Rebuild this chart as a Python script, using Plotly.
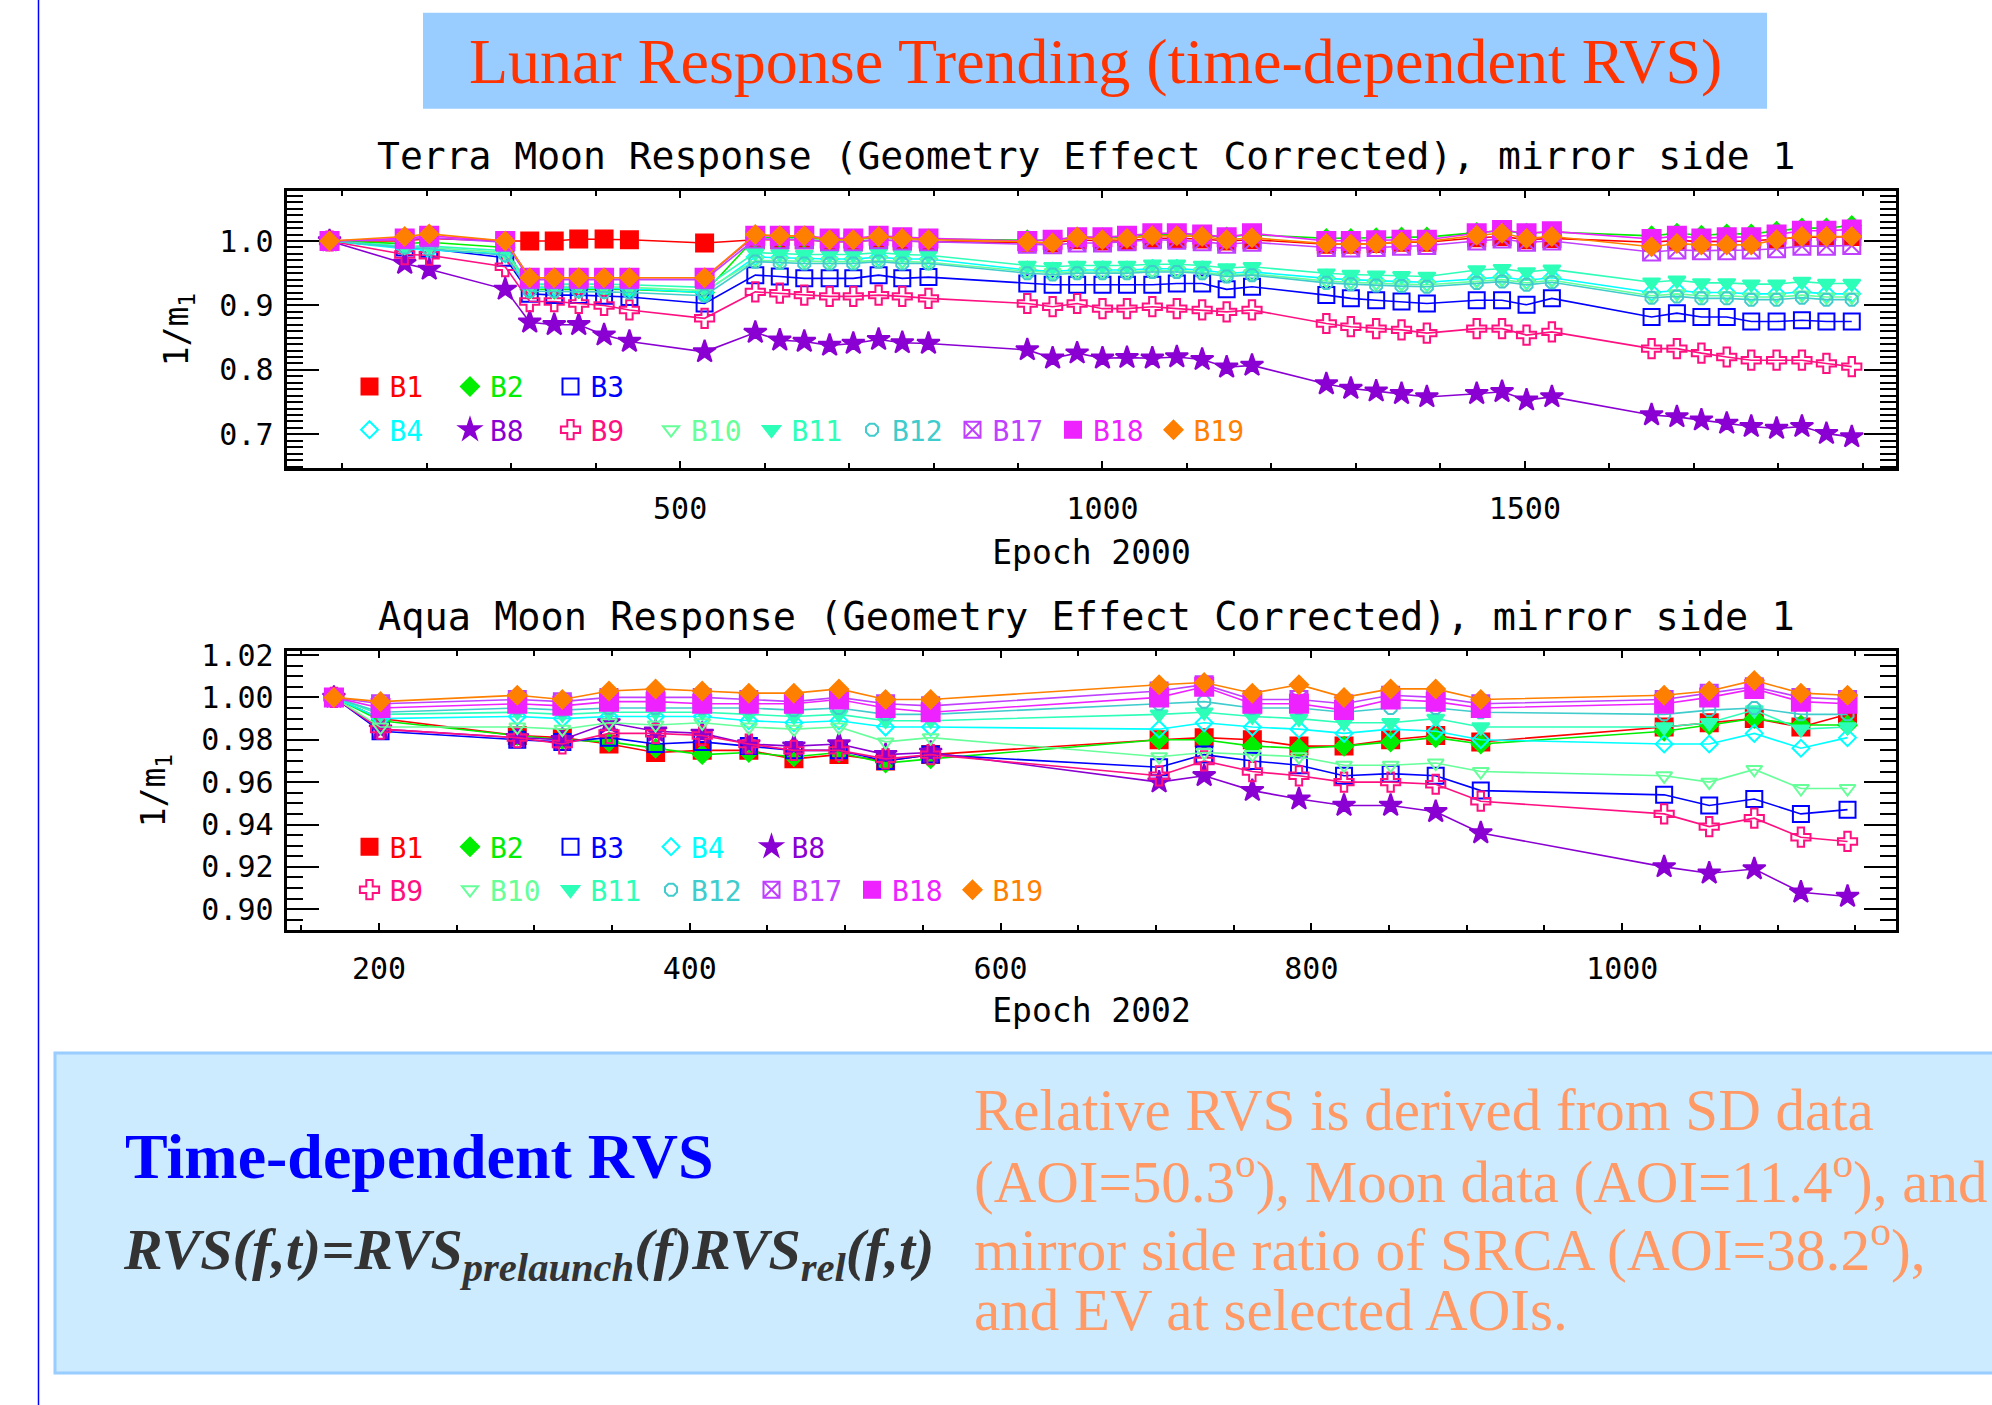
import plotly.graph_objects as go

W, H = 1992, 1405

# ---------------- data ----------------
bands = ["B1", "B2", "B3", "B4", "B8", "B9", "B10", "B11", "B12", "B17", "B18", "B19"]

terra_epoch = [85, 174, 203, 293, 322, 351, 380, 410, 440, 529,
               589, 618, 647, 677, 705, 735, 763, 794,
               911, 941, 970, 1000, 1029, 1059, 1088, 1118, 1147, 1177,
               1265, 1294, 1324, 1354, 1384,
               1443, 1473, 1502, 1532,
               1650, 1680, 1709, 1739, 1768, 1798, 1828, 1857, 1887]

terra_B1 = [1.000, 1.000, 1.004, 1.000, 1.000, 1.000, 1.003, 1.003, 1.002, 0.997,
            1.002, 1.002, 1.002, 0.999, 0.999, 1.002, 1.000, 0.999,
            0.998, 0.997, 1.002, 1.000, 1.000, 1.004, 1.004, 1.003, 1.000, 1.002,
            0.995, 0.995, 0.996, 0.998, 0.998,
            1.005, 1.007, 1.002, 1.004,
            0.998, 1.001, 0.999, 1.000, 1.000, 1.003, 1.006, 1.006, 1.007]
terra_B2 = [1.000, 0.996, 0.998, 0.990, 0.925, 0.925, 0.926, 0.925, 0.925, 0.920,
            1.005, 1.005, 1.005, 1.002, 1.002, 1.006, 1.004, 1.003,
            1.002, 1.001, 1.006, 1.005, 1.006, 1.010, 1.010, 1.009, 1.006, 1.010,
            1.004, 1.004, 1.005, 1.006, 1.006,
            1.013, 1.016, 1.012, 1.014,
            1.008, 1.012, 1.009, 1.011, 1.011, 1.015, 1.020, 1.020, 1.024]
terra_B3 = [1.000, 0.990, 0.988, 0.974, 0.918, 0.916, 0.916, 0.915, 0.913, 0.903,
            0.947, 0.945, 0.942, 0.942, 0.942, 0.947, 0.942, 0.944,
            0.934, 0.932, 0.932, 0.932, 0.932, 0.932, 0.934, 0.934, 0.925, 0.929,
            0.916, 0.911, 0.908, 0.906, 0.903,
            0.908, 0.908, 0.901, 0.911,
            0.882, 0.888, 0.882, 0.882, 0.875, 0.875, 0.877, 0.875, 0.875]
terra_B4 = [1.000, 0.988, 0.986, 0.980, 0.928, 0.928, 0.928, 0.927, 0.926, 0.920,
            0.975, 0.974, 0.972, 0.972, 0.972, 0.975, 0.972, 0.972,
            0.955, 0.953, 0.955, 0.955, 0.955, 0.957, 0.957, 0.955, 0.950, 0.952,
            0.942, 0.940, 0.938, 0.937, 0.936,
            0.942, 0.944, 0.939, 0.943,
            0.920, 0.923, 0.920, 0.920, 0.918, 0.918, 0.921, 0.918, 0.918]
terra_B8 = [1.000, 0.965, 0.956, 0.925, 0.874, 0.870, 0.870, 0.854, 0.844, 0.828,
            0.858, 0.846, 0.844, 0.838, 0.841, 0.847, 0.842, 0.841,
            0.831, 0.818, 0.826, 0.818, 0.819, 0.818, 0.820, 0.816, 0.804, 0.807,
            0.778, 0.771, 0.767, 0.763, 0.758,
            0.763, 0.766, 0.753, 0.758,
            0.730, 0.727, 0.722, 0.717, 0.712, 0.709, 0.712, 0.701, 0.696]
terra_B9 = [1.000, 0.979, 0.978, 0.960, 0.906, 0.906, 0.903, 0.900, 0.893, 0.880,
            0.921, 0.919, 0.916, 0.914, 0.914, 0.916, 0.914, 0.911,
            0.903, 0.898, 0.903, 0.895, 0.895, 0.898, 0.895, 0.893, 0.890, 0.893,
            0.872, 0.867, 0.864, 0.862, 0.857,
            0.864, 0.864, 0.854, 0.859,
            0.833, 0.833, 0.826, 0.820, 0.815, 0.815, 0.815, 0.810, 0.805]
terra_B10 = [1.000, 0.991, 0.990, 0.982, 0.930, 0.930, 0.930, 0.929, 0.928, 0.923,
             0.970, 0.969, 0.968, 0.968, 0.968, 0.970, 0.968, 0.967,
             0.953, 0.951, 0.952, 0.952, 0.952, 0.954, 0.954, 0.952, 0.947, 0.949,
             0.938, 0.936, 0.934, 0.933, 0.932,
             0.938, 0.940, 0.935, 0.939,
             0.915, 0.918, 0.915, 0.915, 0.913, 0.913, 0.916, 0.913, 0.913]
terra_B11 = [1.000, 0.992, 0.992, 0.985, 0.933, 0.933, 0.934, 0.933, 0.932, 0.928,
             0.982, 0.980, 0.979, 0.979, 0.979, 0.982, 0.979, 0.978,
             0.962, 0.960, 0.962, 0.962, 0.962, 0.964, 0.964, 0.962, 0.958, 0.960,
             0.950, 0.948, 0.947, 0.946, 0.945,
             0.955, 0.957, 0.952, 0.956,
             0.936, 0.939, 0.935, 0.935, 0.933, 0.933, 0.937, 0.934, 0.934]
terra_B12 = [1.000, 0.990, 0.988, 0.978, 0.922, 0.922, 0.922, 0.921, 0.920, 0.915,
             0.968, 0.966, 0.965, 0.965, 0.965, 0.968, 0.965, 0.965,
             0.950, 0.948, 0.950, 0.950, 0.950, 0.952, 0.952, 0.950, 0.945, 0.947,
             0.935, 0.933, 0.931, 0.930, 0.929,
             0.935, 0.937, 0.932, 0.936,
             0.912, 0.914, 0.911, 0.911, 0.909, 0.909, 0.912, 0.909, 0.909]
terra_B17 = [1.000, 1.002, 1.005, 0.998, 0.940, 0.940, 0.940, 0.940, 0.940, 0.940,
             1.003, 1.002, 1.002, 0.999, 0.999, 1.002, 1.000, 0.999,
             0.995, 0.994, 0.997, 0.997, 0.999, 1.002, 1.001, 0.999, 0.995, 0.998,
             0.990, 0.989, 0.990, 0.992, 0.993,
             1.000, 1.003, 0.998, 1.000,
             0.983, 0.986, 0.985, 0.985, 0.986, 0.988, 0.992, 0.992, 0.993]
terra_B18 = [1.000, 1.004, 1.008, 1.000, 0.943, 0.943, 0.943, 0.943, 0.943, 0.943,
             1.008, 1.008, 1.008, 1.004, 1.004, 1.008, 1.006, 1.004,
             1.000, 1.002, 1.006, 1.006, 1.008, 1.012, 1.012, 1.010, 1.006, 1.012,
             1.000, 1.000, 1.001, 1.002, 1.002,
             1.012, 1.017, 1.012, 1.015,
             1.003, 1.008, 1.004, 1.006, 1.006, 1.010, 1.016, 1.016, 1.018]
terra_B19 = [1.000, 1.007, 1.011, 1.000, 0.943, 0.943, 0.943, 0.943, 0.943, 0.943,
             1.010, 1.008, 1.008, 1.002, 1.002, 1.007, 1.004, 1.002,
             0.999, 0.997, 1.006, 1.002, 1.004, 1.008, 1.008, 1.007, 1.002, 1.005,
             0.996, 0.995, 0.996, 0.999, 0.999,
             1.009, 1.012, 1.004, 1.007,
             0.991, 0.996, 0.994, 0.994, 0.994, 1.002, 1.007, 1.007, 1.007]

aqua_epoch = [171, 201, 289, 318, 348, 378, 408, 438, 467, 496, 526, 555,
              702, 731, 762, 792, 821, 851, 880, 909,
              1027, 1056, 1085, 1115, 1145]

aqua_B1 = [1.000, 0.990, 0.982, 0.981, 0.978, 0.974, 0.975, 0.975, 0.971, 0.973, 0.970, 0.973,
           0.980, 0.981, 0.980, 0.977, 0.977, 0.980, 0.982, 0.979,
           0.986, 0.988, 0.990, 0.986, 0.992]
aqua_B2 = [1.000, 0.989, 0.982, 0.980, 0.979, 0.976, 0.973, 0.974, 0.972, 0.974, 0.969, 0.971,
           0.980, 0.980, 0.977, 0.976, 0.977, 0.979, 0.981, 0.978,
           0.984, 0.987, 0.990, 0.987, 0.987]
aqua_B3 = [1.000, 0.984, 0.980, 0.979, 0.981, 0.978, 0.979, 0.977, 0.975, 0.975, 0.970, 0.973,
           0.967, 0.973, 0.970, 0.968, 0.963, 0.964, 0.963, 0.956,
           0.954, 0.949, 0.952, 0.945, 0.947]
aqua_B4 = [1.000, 0.990, 0.991, 0.990, 0.991, 0.991, 0.991, 0.989, 0.988, 0.989, 0.986, 0.986,
           0.985, 0.988, 0.986, 0.985, 0.983, 0.985, 0.984, 0.980,
           0.978, 0.978, 0.983, 0.976, 0.981]
aqua_B8 = [1.000, 0.985, 0.981, 0.980, 0.988, 0.984, 0.983, 0.978, 0.977, 0.978, 0.973, 0.974,
           0.960, 0.963, 0.956, 0.952, 0.949, 0.949, 0.946, 0.936,
           0.920, 0.917, 0.919, 0.908, 0.906]
aqua_B9 = [1.000, 0.985, 0.981, 0.978, 0.983, 0.983, 0.982, 0.978, 0.975, 0.975, 0.971, 0.973,
           0.963, 0.970, 0.965, 0.963, 0.960, 0.960, 0.959, 0.951,
           0.945, 0.939, 0.943, 0.934, 0.932]
aqua_B10 = [1.000, 0.986, 0.986, 0.985, 0.988, 0.987, 0.988, 0.986, 0.985, 0.986, 0.979, 0.981,
            0.972, 0.974, 0.973, 0.972, 0.968, 0.968, 0.969, 0.965,
            0.963, 0.960, 0.966, 0.957, 0.957]
aqua_B11 = [1.000, 0.992, 0.993, 0.992, 0.993, 0.993, 0.993, 0.992, 0.991, 0.992, 0.989, 0.989,
            0.992, 0.993, 0.991, 0.990, 0.988, 0.988, 0.990, 0.986,
            0.986, 0.988, 0.994, 0.985, 0.986]
aqua_B12 = [1.000, 0.993, 0.995, 0.994, 0.995, 0.995, 0.995, 0.995, 0.994, 0.995, 0.992, 0.992,
            0.997, 0.998, 0.995, 0.995, 0.993, 0.995, 0.995, 0.993,
            0.992, 0.994, 0.995, 0.992, 0.992]
aqua_B17 = [1.000, 0.997, 0.999, 0.998, 1.000, 1.000, 1.000, 0.999, 0.998, 1.000, 0.997, 0.996,
            1.003, 1.006, 0.999, 0.999, 0.997, 1.001, 1.000, 0.997,
            0.999, 1.002, 1.005, 1.000, 0.999]
aqua_B18 = [1.000, 0.995, 0.997, 0.996, 0.998, 0.998, 0.997, 0.997, 0.997, 0.999, 0.995, 0.993,
            1.000, 1.005, 0.997, 0.997, 0.994, 0.999, 0.998, 0.995,
            0.997, 1.000, 1.004, 0.998, 0.997]
aqua_B19 = [1.000, 0.998, 1.001, 0.999, 1.003, 1.004, 1.003, 1.002, 1.002, 1.004, 0.999, 0.999,
            1.006, 1.007, 1.002, 1.006, 1.000, 1.004, 1.004, 0.999,
            1.001, 1.003, 1.008, 1.002, 1.001]

terra = dict(zip(bands, [terra_B1, terra_B2, terra_B3, terra_B4, terra_B8, terra_B9,
                         terra_B10, terra_B11, terra_B12, terra_B17, terra_B18, terra_B19]))
aqua = dict(zip(bands, [aqua_B1, aqua_B2, aqua_B3, aqua_B4, aqua_B8, aqua_B9,
                        aqua_B10, aqua_B11, aqua_B12, aqua_B17, aqua_B18, aqua_B19]))
for b in bands:
    assert len(terra[b]) == len(terra_epoch), b
    assert len(aqua[b]) == len(aqua_epoch), b

# ---------------- styles ----------------
colors = {"B1": "#FF0000", "B2": "#00EE00", "B3": "#0000FF", "B4": "#00FFFF",
          "B8": "#8A00D2", "B9": "#FF1080", "B10": "#66FF99", "B11": "#2EFFB8",
          "B12": "#40CCCC", "B17": "#C040FF", "B18": "#EE22FF", "B19": "#FF8000"}
symbols = {"B1": "square", "B2": "diamond", "B3": "square-open", "B4": "diamond-open",
           "B8": "star", "B9": "cross-open", "B10": "triangle-down-open",
           "B11": "triangle-down", "B12": "octagon-open", "B17": "square-x-open",
           "B18": "square", "B19": "diamond"}
sizes = {"B1": 17, "B2": 14, "B3": 16, "B4": 13, "B8": 17, "B9": 16, "B10": 14,
         "B11": 15, "B12": 13, "B17": 17, "B18": 18, "B19": 14}

MONO = "DejaVu Sans Mono"
SERIF = "Liberation Serif"

fig = go.Figure()

def add_series(xs, data, xa, ya):
    for b in bands:
        fig.add_trace(go.Scatter(
            x=xs, y=data[b], mode="lines+markers", xaxis=xa, yaxis=ya,
            line=dict(color=colors[b], width=1.6),
            marker=dict(symbol=symbols[b], size=sizes[b], color=colors[b],
                        line=dict(color=colors[b], width=2)),
            showlegend=False, hoverinfo="skip"))

add_series(terra_epoch, terra, "x", "y")
add_series(aqua_epoch, aqua, "x2", "y2")

def add_legend_items(blist, legend_name):
    for b in blist:
        fig.add_trace(go.Scatter(
            x=[None], y=[None], mode="markers",
            marker=dict(symbol=symbols[b], size=sizes[b], color=colors[b],
                        line=dict(color=colors[b], width=2)),
            name='<span style="color:%s">%s</span>' % (colors[b], b),
            legend=legend_name, showlegend=True))

add_legend_items(["B1", "B2", "B3"], "legend")
add_legend_items(["B4", "B8", "B9", "B10", "B11", "B12", "B17", "B18", "B19"], "legend2")
add_legend_items(["B1", "B2", "B3", "B4", "B8"], "legend3")
add_legend_items(["B9", "B10", "B11", "B12", "B17", "B18", "B19"], "legend4")

def px_x(p):
    return p / W

def px_y(p):
    return 1 - p / H

def leg(x, y):
    return dict(orientation="h", x=x, y=y, xanchor="left", yanchor="middle",
                bgcolor="rgba(0,0,0,0)", font=dict(family=MONO, size=28, color="black"),
                entrywidth=55.5, entrywidthmode="pixels", itemwidth=30,
                tracegroupgap=0, itemclick=False, itemdoubleclick=False)

axis_common = dict(showline=True, linecolor="black", linewidth=2.5, mirror="ticks",
                   ticks="inside", tickcolor="black", tickwidth=1.5,
                   showgrid=False, zeroline=False, automargin=False,
                   tickfont=dict(family=MONO, size=30, color="black"))

xdom = [px_x(287.3), px_x(1895.7)]
minor_tick = dict(ticks="inside", tickcolor="black", tickwidth=1.5)

fig.update_layout(
    width=W, height=H, margin=dict(l=0, r=0, t=0, b=0, autoexpand=False),
    paper_bgcolor="white", plot_bgcolor="white", showlegend=True,
    xaxis=dict(domain=xdom, anchor="y", range=[35, 1939], dtick=500, tick0=0, ticklen=7,
               minor=dict(dtick=100, tick0=0, ticklen=5, **minor_tick),
               title=dict(text="Epoch 2000", font=dict(family=MONO, size=33, color="black"), standoff=17),
               ticklabelstandoff=12, **axis_common),
    yaxis=dict(domain=[px_y(468), px_y(191)], anchor="x", range=[0.6477, 1.0776],
               dtick=0.1, tick0=0, ticklen=32, tickformat=".1f",
               minor=dict(dtick=0.01, tick0=0, ticklen=16, **minor_tick),
               title=dict(text="1/m<sub>1</sub>", font=dict(family=MONO, size=33, color="black"), standoff=21),
               ticklabelstandoff=5, **axis_common),
    xaxis2=dict(domain=xdom, anchor="y2", range=[141, 1176], dtick=200, tick0=0, ticklen=7,
                minor=dict(dtick=50, tick0=0, ticklen=5, **minor_tick),
                title=dict(text="Epoch 2002", font=dict(family=MONO, size=33, color="black"), standoff=15),
                ticklabelstandoff=10, **axis_common),
    yaxis2=dict(domain=[px_y(930), px_y(651)], anchor="x2", range=[0.8902, 1.0219],
                dtick=0.02, tick0=0, ticklen=32, tickformat=".2f",
                minor=dict(dtick=0.005, tick0=0, ticklen=16, **minor_tick),
                title=dict(text="1/m<sub>1</sub>", font=dict(family=MONO, size=33, color="black"), standoff=26),
                ticklabelstandoff=5, **axis_common),
    legend=leg(px_x(349.5), px_y(386.7)),
    legend2=leg(px_x(349.5), px_y(430)),
    legend3=leg(px_x(349.5), px_y(847)),
    legend4=leg(px_x(349.5), px_y(890)),
)

# ---------------- decorations ----------------
shapes = [
    dict(type="line", xref="paper", yref="paper", x0=px_x(38.5), x1=px_x(38.5), y0=0, y1=1,
         line=dict(color="#0000FF", width=1.5)),
    dict(type="rect", xref="paper", yref="paper", x0=px_x(423), x1=px_x(1767),
         y0=px_y(108.7), y1=px_y(12.7), fillcolor="#99CCFF", line=dict(width=0), layer="below"),
    dict(type="rect", xref="paper", yref="paper", x0=px_x(55), x1=px_x(2010),
         y0=px_y(1373), y1=px_y(1053), fillcolor="#CCEBFF",
         line=dict(color="#99CCFF", width=3), layer="below"),
]
fig.update_layout(shapes=shapes)

ORANGE_TXT = "#FF9966"
annotations = [
    dict(text="Lunar Response Trending (time-dependent RVS)", x=px_x(1095), y=px_y(62),
         font=dict(family=SERIF, size=64, color="#FF3300")),
    dict(text="Terra Moon Response (Geometry Effect Corrected), mirror side 1",
         x=px_x(1086), y=px_y(156), font=dict(family=MONO, size=38, color="black")),
    dict(text="Aqua Moon Response (Geometry Effect Corrected), mirror side 1",
         x=px_x(1086), y=px_y(616), font=dict(family=MONO, size=38.6, color="black")),
    dict(text="<b>Time-dependent RVS</b>", x=px_x(123), y=px_y(1156), xanchor="left",
         font=dict(family=SERIF, size=64, color="#0000FF")),
    dict(text="<b><i>RVS(f,t)=RVS<sub>prelaunch</sub>(f)RVS<sub>rel</sub>(f,t)</i></b>",
         x=px_x(121), y=px_y(1253), xanchor="left",
         font=dict(family=SERIF, size=58, color="#333333")),
    dict(text="Relative RVS is derived from SD data", x=px_x(972), y=px_y(1110), xanchor="left",
         font=dict(family=SERIF, size=59, color=ORANGE_TXT)),
    dict(text="(AOI=50.3<sup>o</sup>), Moon data (AOI=11.4<sup>o</sup>), and", x=px_x(972),
         y=px_y(1177), xanchor="left", font=dict(family=SERIF, size=59, color=ORANGE_TXT)),
    dict(text="mirror side ratio of SRCA (AOI=38.2<sup>o</sup>),", x=px_x(972), y=px_y(1245),
         xanchor="left", font=dict(family=SERIF, size=59.5, color=ORANGE_TXT)),
    dict(text="and EV at selected AOIs.", x=px_x(972), y=px_y(1310), xanchor="left",
         font=dict(family=SERIF, size=59, color=ORANGE_TXT)),
]
for a in annotations:
    a.setdefault("xanchor", "center")
    a.update(xref="paper", yref="paper", yanchor="middle", showarrow=False)
fig.update_layout(annotations=annotations)

fig.write_html("out.html", config={"displayModeBar": False})
